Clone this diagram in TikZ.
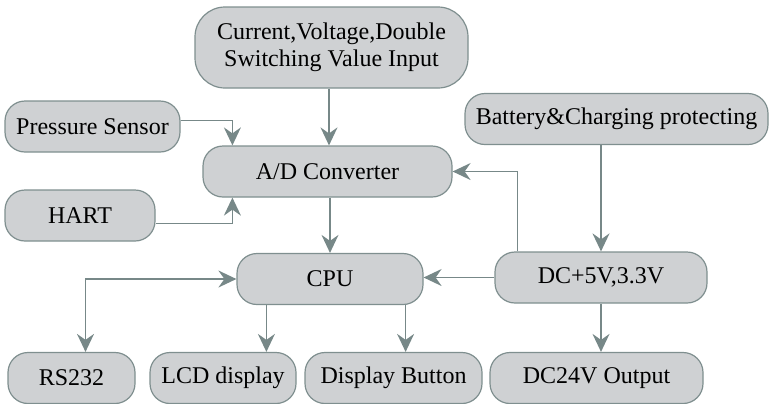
\documentclass[tikz,border=0pt]{standalone}
\usepackage{fontspec}
\setmainfont{Liberation Serif}
\definecolor{blkfill}{HTML}{CFD1D3}
\definecolor{blkline}{HTML}{7F8F8F}
\definecolor{arrline}{HTML}{778888}
\usepackage{tikz}
\usetikzlibrary{arrows.meta, positioning}

\begin{document}
\begin{tikzpicture}[x=0.5pt, y=-0.5pt,
  blk/.style={rounded corners=10pt, draw=blkline, fill=blkfill, line width=0.6pt,
              minimum height=25.5pt, inner sep=2pt, align=center,
              font=\fontsize{12}{13.5}\selectfont},
  arr/.style={draw=arrline, line width=0.75pt,
              -{Stealth[length=9pt, width=8.5pt, inset=3pt]}},
  darr/.style={arr, {Stealth[length=9pt, width=8.5pt, inset=3pt]}-{Stealth[length=9pt, width=8.5pt, inset=3pt]}},
]
  \useasboundingbox (0,0) rectangle (769,403);

  \node[blk, rounded corners=15pt, minimum width=136.5pt, minimum height=40.5pt] (input) at (331.5,47.5)
    {Current,Voltage,Double\\Switching Value Input};
  \node[blk, minimum width=87.5pt]  (press)   at (92.5,126.5)  {Pressure Sensor};
  \node[blk, minimum width=124.5pt] (adc)     at (327.5,171.5) {A/D Converter};
  \node[blk, minimum width=75pt]    (hart)    at (80,215.5)    {HART};
  \node[blk, minimum width=151.5pt] (battery) at (616.5,119)   {Battery\&Charging protecting};
  \node[blk, minimum width=93pt]    (cpu)     at (330,279)     {CPU};
  \node[blk, minimum width=106pt]   (power)   at (601,277.5)   {DC+5V,3.3V};
  \node[blk, minimum width=63.5pt]  (rs)      at (71.5,378)    {RS232};
  \node[blk, minimum width=73pt]    (lcd)     at (223,378)     {LCD display};
  \node[blk, minimum width=88.5pt]  (button)  at (393.5,378)   {Display Button};
  \node[blk, minimum width=106.5pt] (dcout)   at (596.5,378)   {DC24V Output};

  \draw[arr] (input.south -| 329,0) -- (adc.north -| 329,0);
  \draw[arr] ([yshift=3pt]press.east) -| ([xshift=15pt]adc.north west);
  \draw[arr] ([yshift=-4pt]hart.east) -| ([xshift=15pt]adc.south west);
  \draw[arr] (adc.south -| 330,0) -- (cpu.north -| 330,0);
  \draw[arr] (battery.south -| power.north) -- (power.north);
  \draw[arr] ([xshift=11.5pt]power.north west) |- (adc.east);
  \draw[arr] (power.west) -- (cpu.east |- power.west);
  \draw[darr] (cpu.west) -| ([xshift=7pt]rs.north);
  \draw[arr] ([xshift=15pt]cpu.south west) -- ([xshift=15pt]cpu.south west |- lcd.north);
  \draw[arr] ([xshift=-9pt]cpu.south east) -- ([xshift=-9pt]cpu.south east |- button.north);
  \draw[arr] (power.south) -- (power.south |- dcout.north);
\end{tikzpicture}
\end{document}
